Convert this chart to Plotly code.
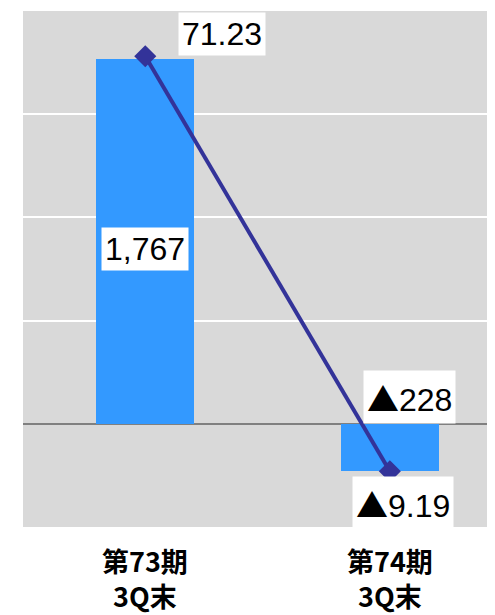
import plotly.graph_objects as go

categories = ["第73期<br>3Q末", "第74期<br>3Q末"]
bar_values = [1767, -228]
line_values = [71.23, -9.19]

TRI = '<span style="font-family:\'Noto Sans CJK JP\'">▲</span>'

def fmt(v, dec=0):
    s = f"{abs(v):,.{dec}f}"
    return (TRI + s) if v < 0 else s

xpos = list(range(len(categories)))

BAR = "#3399FF"
LINE = "#333399"
BG = "#D9D9D9"
FONT = "Liberation Sans"

fig = go.Figure()
fig.add_trace(go.Bar(x=xpos, y=bar_values, width=0.4, marker=dict(color=BAR, line=dict(width=0)),
                     yaxis="y", showlegend=False))
fig.add_trace(go.Scatter(x=xpos, y=line_values, mode="lines+markers", yaxis="y2",
                         line=dict(color=LINE, width=4),
                         marker=dict(symbol="diamond", size=17, color=LINE),
                         showlegend=False))

ann = []
ann_style = dict(showarrow=False, bgcolor="white", borderpad=3,
                 font=dict(family=FONT, size=32, color="black"))
# bar labels
ann.append(dict(x=xpos[0], y=bar_values[0] / 2, xref="x", yref="y", text=fmt(bar_values[0]),
                yshift=-8, **ann_style))
ann.append(dict(x=xpos[1], y=bar_values[1], xref="x", yref="y", text=fmt(bar_values[1]),
                xshift=20, yshift=74, **ann_style))
# line labels
ann.append(dict(x=xpos[0], y=line_values[0], xref="x", yref="y2", text=fmt(line_values[0], 2),
                xshift=77, yshift=22, **ann_style))
ann.append(dict(x=xpos[1], y=line_values[1], xref="x", yref="y2", text=fmt(line_values[1], 2),
                xshift=13, yshift=-32, **ann_style))

# category labels
cat_font = dict(family="Noto Sans CJK JP", size=27, color="black", weight="bold")
for xi, c in zip(xpos, categories):
    ann.append(dict(x=xi, y=0, xref="x", yref="paper", text=c, showarrow=False,
                    yanchor="top", yshift=-12, font=cat_font))

fig.update_layout(
    width=487, height=607,
    margin=dict(l=15, r=0, t=3, b=88),
    paper_bgcolor="white", plot_bgcolor=BG,
    xaxis=dict(range=[-0.5, 1.43], showgrid=False, zeroline=False, showline=False,
               showticklabels=False, ticks=""),
    yaxis=dict(range=[-500, 2000], dtick=500, showgrid=True, gridcolor="white", gridwidth=2,
               zeroline=True, zerolinecolor="#808080", zerolinewidth=2,
               showticklabels=False, ticks="", showline=False),
    yaxis2=dict(range=[-20, 80], overlaying="y", side="right", showgrid=False, zeroline=False,
                showticklabels=False, ticks="", showline=False),
    annotations=ann,
    bargap=0,
)

fig.write_html("out.html")
